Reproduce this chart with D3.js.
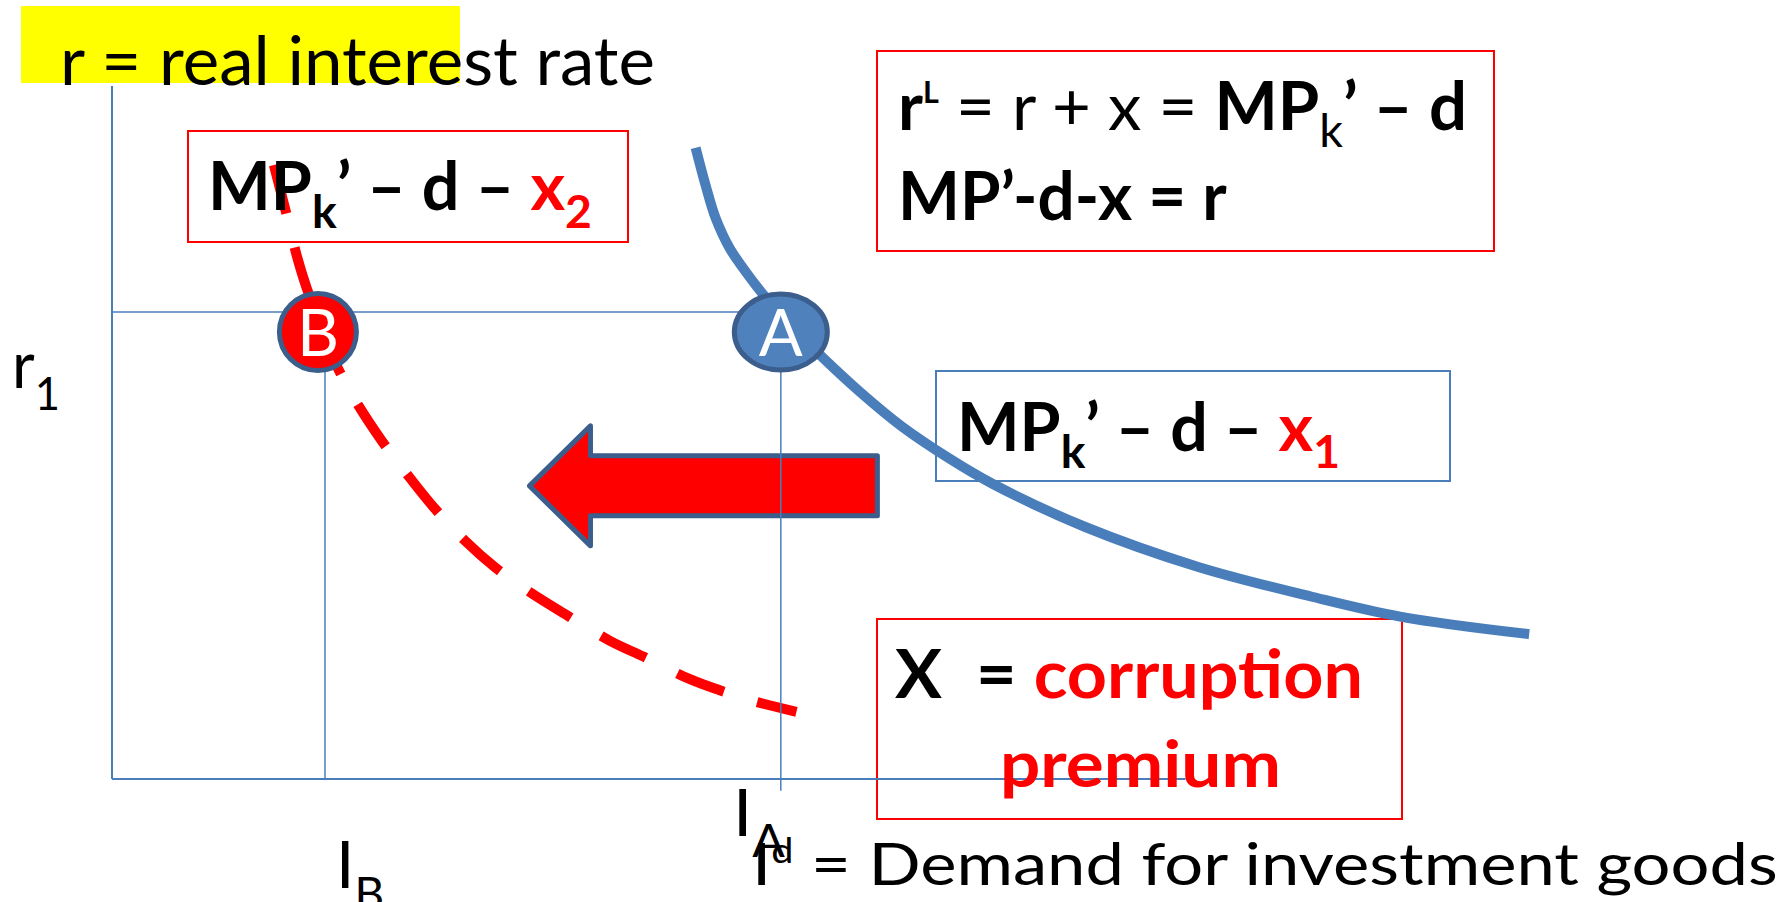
<!DOCTYPE html>
<html><head><meta charset="utf-8">
<script src="https://cdn.jsdelivr.net/npm/d3@7"></script>
<style>html,body{margin:0;padding:0;background:#fff;} svg{display:block;}</style>
</head><body>
<svg id="chart" width="1789" height="902"></svg>
<script>
// ---------------- data ----------------
const investDomain = [0, 100];
const rateDomain = [0, 100];
const r1 = 67.4;          // real interest rate r1
const IA = 47.1;          // investment at A
const IB = 15.0;          // investment at B
const xAxisEnd = 75.6;
const tickBelow = -1.7;

// MPk' - d - x1 (solid blue)
const blueI = [41.1, 41.8, 42.5, 43.5, 44.7, 45.9, 47.8, 50.0, 52.7, 55.6, 59.0, 62.0, 68.5, 76.5, 84.5, 90.8, 99.8];
const blueR = [91.1, 85.7, 81.0, 76.6, 73.0, 69.8, 65.4, 60.9, 55.8, 50.9, 46.2, 42.6, 36.4, 30.6, 26.3, 23.4, 20.9];

// MPk' - d - x2 (dashed red)
const redI = [11.4, 12.3, 13.0, 13.7, 14.7, 15.7, 17.0, 19.0, 21.0, 22.7, 24.9, 27.0, 29.4, 31.9, 35.1, 37.5, 40.7, 42.8, 44.9, 48.2];
const redR = [88.6, 81.4, 75.6, 70.9, 65.5, 60.2, 55.1, 48.8, 43.4, 39.1, 34.3, 30.5, 27.0, 23.8, 19.9, 17.6, 14.4, 12.8, 11.4, 9.7];

// equilibrium markers
const pointLabels = ["A", "B"];
const pointI = [47.1, 14.5];
const pointR = [64.5, 64.5];

// shift arrow
const arrowFromI = 53.9, arrowToI = 29.4, arrowR = 42.3;

// ---------------- drawing ----------------
const FONT = "Lato, 'Open Sans', 'DejaVu Sans', sans-serif";
const BLUE = "#4a7ebb", DARK = "#3b5e8c", RED = "#ff0000";
const svg = d3.select("#chart");
const x = d3.scaleLinear().domain(investDomain).range([112, 1532]);
const y = d3.scaleLinear().domain(rateDomain).range([779, 86]);

// title highlight
svg.append("rect").attr("x", 21).attr("y", 6).attr("width", 439).attr("height", 77).attr("fill", "#ffff00");

// boxes
const boxes = [
  {x0: 188, y0: 131, x1: 628, y1: 242, c: RED},
  {x0: 877, y0: 51, x1: 1494, y1: 251, c: RED},
  {x0: 936, y0: 371, x1: 1450, y1: 481, c: BLUE},
  {x0: 877, y0: 619, x1: 1402, y1: 819, c: RED}
];
svg.selectAll("rect.box").data(boxes).join("rect").attr("class", "box")
  .attr("x", d => d.x0).attr("y", d => d.y0).attr("width", d => d.x1 - d.x0).attr("height", d => d.y1 - d.y0)
  .attr("fill", "none").attr("stroke", d => d.c).attr("stroke-width", 2);

// arrow
{
  const tip = x(arrowToI), tail = x(arrowFromI), cy = y(arrowR);
  const hl = 61, sh = 30, hh = 60;
  const p = d3.path();
  p.moveTo(tip, cy); p.lineTo(tip + hl, cy - hh); p.lineTo(tip + hl, cy - sh); p.lineTo(tail, cy - sh);
  p.lineTo(tail, cy + sh); p.lineTo(tip + hl, cy + sh); p.lineTo(tip + hl, cy + hh); p.closePath();
  svg.append("path").attr("d", p.toString()).attr("fill", RED).attr("stroke", DARK).attr("stroke-width", 5).attr("stroke-linejoin", "round");
}

// curves
const line = d3.line().x(d => x(d[0])).y(d => y(d[1])).curve(d3.curveCatmullRom.alpha(0.5));
svg.append("path").attr("d", line(redI.map((v, i) => [v, redR[i]])))
  .attr("fill", "none").attr("stroke", RED).attr("stroke-width", 10).attr("stroke-dasharray", "50 35");
svg.append("path").attr("d", line(blueI.map((v, i) => [v, blueR[i]])))
  .attr("fill", "none").attr("stroke", BLUE).attr("stroke-width", 10);

// axes and guides
const lines = [
  {a: [0, 0], b: [0, 100], w: 2},
  {a: [0, 0], b: [xAxisEnd, 0], w: 2},
  {a: [0, r1], b: [IA, r1], w: 1.5},
  {a: [IA, r1], b: [IA, tickBelow], w: 1.5},
  {a: [IB, r1], b: [IB, 0], w: 1.5}
];
svg.selectAll("line.g").data(lines).join("line").attr("class", "g")
  .attr("x1", d => x(d.a[0])).attr("y1", d => y(d.a[1])).attr("x2", d => x(d.b[0])).attr("y2", d => y(d.b[1]))
  .attr("stroke", BLUE).attr("stroke-width", d => d.w);

// markers
const pts = pointLabels.map((l, i) => ({l, i: pointI[i], r: pointR[i]}));
svg.selectAll("ellipse.pt").data(pts).join("ellipse").attr("class", "pt")
  .attr("cx", d => x(d.i)).attr("cy", d => y(d.r))
  .attr("rx", d => d.l === "A" ? 46.5 : 38.5).attr("ry", d => d.l === "A" ? 38 : 38.5)
  .attr("fill", d => d.l === "A" ? "#4f81bd" : RED).attr("stroke", DARK).attr("stroke-width", 5);
svg.selectAll("text.pt").data(pts).join("text").attr("class", "pt")
  .attr("x", d => x(d.i)).attr("y", d => y(d.r) + 24).attr("text-anchor", "middle")
  .attr("font-family", FONT).attr("font-size", 65).attr("fill", "#fff").text(d => d.l);

// rich text helper
function rich(x0, x1, segs) {
  const g = svg.append("g");
  const t = g.append("text").attr("x", 0).attr("font-family", FONT).style("white-space", "pre");
  segs.forEach(s => t.append("tspan").attr("y", s.y).attr("font-size", s.size)
    .attr("font-weight", s.b ? 700 : 400).attr("fill", s.c || "#000").text(s.t));
  const bb = t.node().getBBox();
  const sx = (x1 - x0) / bb.width;
  g.attr("transform", `translate(${x0},0) scale(${sx},1) translate(${-bb.x},0)`);
}

rich(60, 655, [{t: "r = real interest rate", size: 68, y: 85}]);
rich(12, 60, [{t: "r", size: 66, y: 388}, {t: "1", size: 46, y: 410}]);

rich(208, 592, [
  {t: "MP", b: 1, size: 66, y: 210}, {t: "k", b: 1, size: 46, y: 228},
  {t: "’ – d – ", b: 1, size: 66, y: 210}, {t: "x", b: 1, size: 66, y: 210, c: RED},
  {t: "2", b: 1, size: 46, y: 228, c: RED}]);

rich(898, 1467, [
  {t: "r", b: 1, size: 66, y: 130}, {t: "L", b: 1, size: 30, y: 103},
  {t: " = r + x = ", size: 66, y: 130}, {t: "MP", b: 1, size: 66, y: 130},
  {t: "k", size: 46, y: 147}, {t: "’ – d", b: 1, size: 66, y: 130}]);
rich(898, 1227, [{t: "MP’-d-x = r", b: 1, size: 66, y: 220}]);

rich(957, 1340, [
  {t: "MP", b: 1, size: 66, y: 451}, {t: "k", b: 1, size: 46, y: 468},
  {t: "’ – d – ", b: 1, size: 66, y: 451}, {t: "x", b: 1, size: 66, y: 451, c: RED},
  {t: "1", b: 1, size: 46, y: 468, c: RED}]);

rich(895, 1363, [{t: "X  = ", b: 1, size: 66, y: 698}, {t: "corruption", b: 1, size: 66, y: 698, c: RED}]);
rich(1000, 1281, [{t: "premium", b: 1, size: 66, y: 787, c: RED}]);

rich(733, 785, [{t: "I", size: 66, y: 836}, {t: "A", size: 46, y: 857}]);
rich(336, 384, [{t: "I", size: 66, y: 888}, {t: "B", size: 46, y: 910}]);
rich(752, 1778, [{t: "I", size: 59, y: 885}, {t: "d", size: 34, y: 863}, {t: " = Demand for investment goods", size: 59, y: 885}]);
</script>
</body></html>
